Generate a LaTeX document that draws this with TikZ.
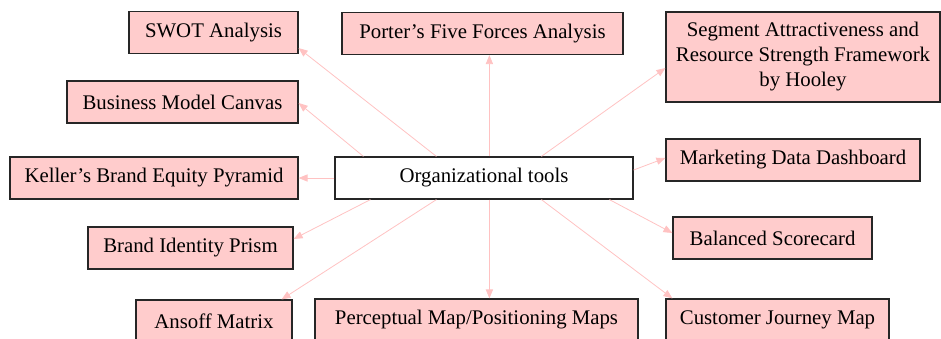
\documentclass[tikz,border=0pt]{standalone}
\usepackage{fontspec}
\setmainfont{Liberation Serif}
\usepackage{xcolor}
\usetikzlibrary{positioning,calc,arrows.meta}
\definecolor{boxpink}{HTML}{FFCCCC}
\definecolor{linkpink}{HTML}{FFC2C2}
\definecolor{boxline}{HTML}{262626}

\begin{document}
\begin{tikzpicture}[x=0.5pt, y=-0.5pt,
    tool/.style={draw=boxline, line width=0.6pt, fill=boxpink, inner sep=0pt,
        minimum height=21pt, align=center, font=\fontsize{10.4}{12.5}\selectfont},
    link/.style={draw=linkpink, line width=0.4pt, -{Triangle[length=4.5pt,width=3.6pt]}}]
    \useasboundingbox (0,0) rectangle (941,338);

    % Centre
    \node[tool, fill=white, minimum width=149pt] (org) at (484,178) {Organizational tools};

    % Tools above
    \node[tool, minimum width=84.5pt] (swot) at (213.5,32.5) {SWOT Analysis};
    \node[tool, minimum width=140.5pt] (porter) at (482.5,33.5) {Porter’s Five Forces Analysis};
    \node[tool, minimum width=137pt, minimum height=45pt] (segment) at (803,57)
        {Segment Attractiveness and\\Resource Strength Framework\\by Hooley};
    \node[tool, minimum width=115.5pt] (bmc) at (182.5,102) {Business Model Canvas};

    % Tools beside
    \node[tool, minimum width=144pt] (keller) at (154,178) {Keller’s Brand Equity Pyramid};
    \node[tool, minimum width=127pt] (mdd) at (793,160) {Marketing Data Dashboard};

    % Tools below
    \node[tool, minimum width=102.5pt] (prism) at (190.5,248) {Brand Identity Prism};
    \node[tool, minimum width=99.5pt] (bsc) at (772.5,238) {Balanced Scorecard};
    \node[tool, minimum width=78pt] (ansoff) at (214,321) {Ansoff Matrix};
    \node[tool, minimum width=161.5pt] (percept) at (476.5,320) {Perceptual Map/Positioning Maps};
    \node[tool, minimum width=111.5pt] (journey) at (777.5,320) {Customer Journey Map};

    % Start points on the centre box
    \coordinate (t1) at ($(org.north west)+(29,0)$);
    \coordinate (t2) at ($(org.north west)+(102,0)$);
    \coordinate (t3) at ($(org.north west)+(155,0)$);
    \coordinate (t4) at ($(org.north west)+(207,0)$);
    \coordinate (b1) at ($(org.south west)+(36,0)$);
    \coordinate (b2) at ($(org.south west)+(102,0)$);
    \coordinate (b3) at ($(org.south west)+(155,0)$);
    \coordinate (b4) at ($(org.south west)+(207,0)$);
    \coordinate (b5) at ($(org.south west)+(275,0)$);

    % Links
    \draw[link] (t2) -- ($(swot.south east)+(0,-6)$);
    \draw[link] (t1) -- ($(bmc.east)+(0,1)$);
    \draw[link] (t3) -- (porter.south -| t3);
    \draw[link] (t4) -- ($(segment.west)+(0,11)$);
    \draw[link] ($(org.east)+(0,-8)$) -- ($(mdd.west)+(0,-2)$);
    \draw[link] (org.west) -- (keller.east);
    \draw[link] (b1) -- ($(prism.east)+(0,-9)$);
    \draw[link] (b2) -- ($(ansoff.north east)+(-11,0)$);
    \draw[link] (b3) -- (percept.north -| b3);
    \draw[link] (b4) -- ($(journey.north west)+(7,0)$);
    \draw[link] (b5) -- ($(bsc.west)+(0,-5)$);
\end{tikzpicture}
\end{document}
